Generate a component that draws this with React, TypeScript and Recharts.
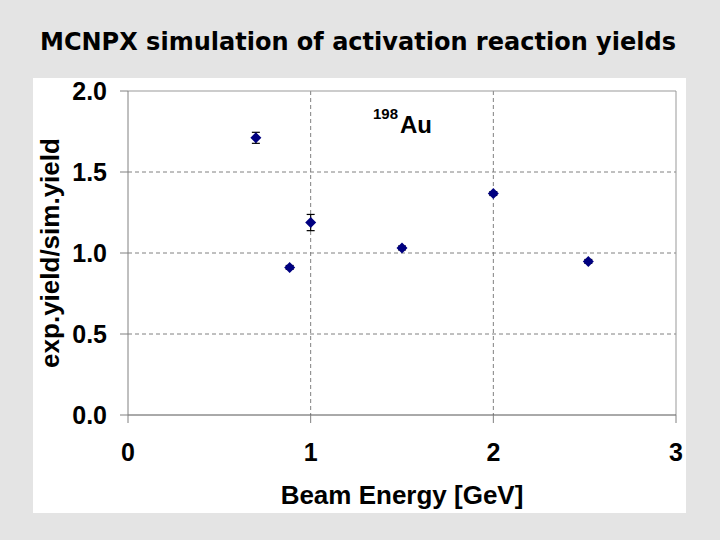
import React from 'react';
import {
  ScatterChart,
  Scatter,
  XAxis,
  YAxis,
  CartesianGrid,
  ErrorBar,
  ReferenceLine,
} from 'recharts';

// values (198Au ratios)
const beamEnergy = [0.7, 0.885, 1.0, 1.5, 2.0, 2.52];
const yieldRatio = [1.711, 0.911, 1.188, 1.031, 1.367, 0.948];
const ratioError = [0.034, 0.012, 0.05, 0.012, 0.012, 0.012];

const xTicks = [0, 1, 2, 3];
const yTicks = [0, 0.5, 1.0, 1.5, 2.0];

const points = beamEnergy.map((e, i) => ({ e, r: yieldRatio[i], err: ratioError[i] }));

const FONT = '"Liberation Sans", Arial, sans-serif';

const Diamond = (props: any) => {
  const { cx, cy } = props;
  const s = 5.5;
  return (
    <polygon
      points={`${cx},${cy - s} ${cx + s},${cy} ${cx},${cy + s} ${cx - s},${cy}`}
      fill="#000080"
    />
  );
};

const YTitle = ({ viewBox }: any) => {
  const x = viewBox.x + 59;
  const y = viewBox.y + viewBox.height / 2;
  return (
    <text
      x={x}
      y={y}
      transform={`rotate(-90 ${x} ${y})`}
      textAnchor="middle"
      fontFamily={FONT}
      fontWeight="bold"
      fontSize={26}
      fill="#000"
    >
      exp.yield/sim.yield
    </text>
  );
};

const XTitle = ({ viewBox }: any) => {
  const x = viewBox.x + viewBox.width / 2;
  const y = viewBox.y + 89;
  return (
    <text x={x} y={y} textAnchor="middle" fontFamily={FONT} fontWeight="bold" fontSize={26} fill="#000">
      Beam Energy [GeV]
    </text>
  );
};

export default function App() {
  const tickStyle = { fontFamily: FONT, fontWeight: 'bold', fontSize: 25, fill: '#000' };
  return (
    <div style={{ position: 'absolute', left: 0, top: 0, width: 720, height: 540, background: '#e4e4e4' }}>
      <svg width={720} height={70} style={{ position: 'absolute', left: 0, top: 0 }}>
        <text
          x={40}
          y={50}
          textLength={636}
          lengthAdjust="spacingAndGlyphs"
          fontFamily='"Comic Sans MS", "DejaVu Sans", sans-serif'
          fontWeight="bold"
          fontSize={25}
          fill="#000"
        >
          MCNPX simulation of activation reaction yields
        </text>
      </svg>
      <div style={{ position: 'absolute', left: 33, top: 78, width: 653, height: 435, background: '#fff' }} />
      <div style={{ position: 'absolute', left: 0, top: 0 }}>
        <ScatterChart width={720} height={540} margin={{ top: 91, right: 44, bottom: 0, left: 0 }}>
          <CartesianGrid
            horizontalValues={[0.5, 1.0, 1.5]}
            verticalValues={[1, 2]}
            stroke="#808080"
            strokeDasharray="4 3"
          />
          <ReferenceLine y={2} stroke="#999" />
          <ReferenceLine x={3} stroke="#999" />
          <XAxis
            type="number"
            dataKey="e"
            domain={[0, 3]}
            ticks={xTicks}
            height={125}
            tickSize={8}
            tickMargin={20}
            tick={tickStyle}
            axisLine={{ stroke: '#555' }}
            tickLine={{ stroke: '#808080' }}
            label={<XTitle />}
          />
          <YAxis
            type="number"
            dataKey="r"
            domain={[0, 2]}
            ticks={yTicks}
            width={128}
            tickSize={8}
            tickMargin={13}
            tick={tickStyle}
            tickFormatter={(v: number) => v.toFixed(1)}
            axisLine={{ stroke: '#808080' }}
            tickLine={{ stroke: '#808080' }}
            label={<YTitle />}
          />
          <Scatter data={points} shape={<Diamond />} isAnimationActive={false}>
            <ErrorBar dataKey="err" direction="y" width={4} stroke="#000" strokeWidth={1.2} />
          </Scatter>
        </ScatterChart>
      </div>
      <svg width={120} height={50} style={{ position: 'absolute', left: 360, top: 100 }}>
        <text x={13} y={19} fontFamily={FONT} fontWeight="bold" fontSize={15} fill="#000">
          198
        </text>
        <text x={40} y={33} fontFamily={FONT} fontWeight="bold" fontSize={24} fill="#000">
          Au
        </text>
      </svg>
    </div>
  );
}
